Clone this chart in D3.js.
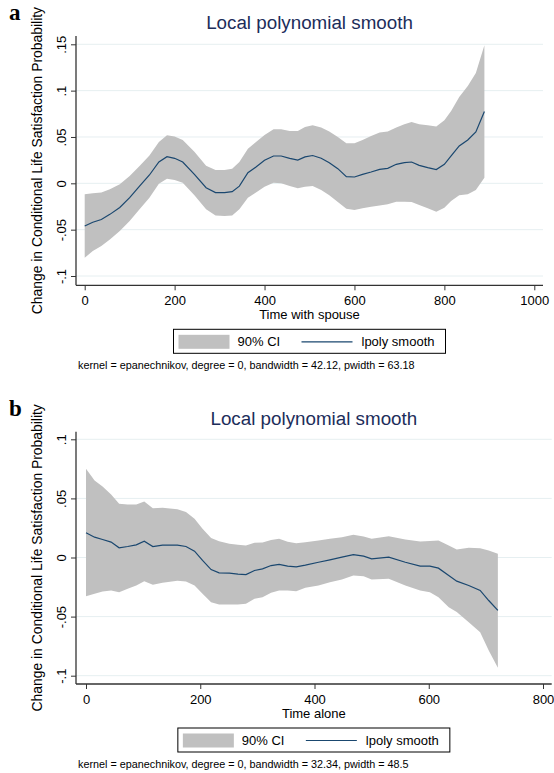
<!DOCTYPE html>
<html>
<head>
<meta charset="utf-8">
<script src="https://cdn.jsdelivr.net/npm/d3@7"></script>
<style>
  body { margin: 0; background: #fff; }
  svg { display: block; font-family: "Liberation Sans", Arial, sans-serif; }
</style>
</head>
<body>
<div id="chart"></div>
<script>
const width = 554;
const height = 773;

// panel a : time with spouse
const spouseX = [0, 18, 37, 56, 78, 100, 122, 144, 165, 183, 200, 218, 244, 270, 291, 311, 328, 344, 363, 381,
  400, 420, 437, 456, 474, 490, 507, 526, 544, 563, 582, 600, 618, 637, 656, 674, 693, 711, 727, 744,
  763, 782, 800, 815, 833, 852, 870, 889];
const spouseFit = [-.046, -.042, -.039, -.0335, -.026, -.0155, -.003, .009, .023, .0288, .027, .023, .0097, -.0047, -.010, -.010, -.009, -.003, .0115, .0176,
  .0248, .0295, .0295, .027, .025, .0285, .030, .027, .0223, .0158, .0072, .0068, .0097, .0122, .015, .0162, .0205, .0223, .023, .0194,
  .0169, .0148, .0205, .0295, .0403, .0468, .0554, .0774];
const spouseHi = [-.0119, -.0108, -.010, -.0065, -.001, .0079, .0187, .030, .0445, .0518, .0504, .0468, .034, .019, .0144, .0144, .0158, .023, .0374, .0446,
  .0522, .0583, .0583, .0565, .0565, .0608, .0626, .0601, .0558, .050, .0432, .0432, .0468, .0511, .0547, .0558, .0601, .0637, .0662, .0637,
  .0626, .0612, .068, .078, .0932, .105, .119, .149];
const spouseLo = [-.0803, -.0731, -.0677, -.0605, -.0515, -.0407, -.0281, -.0155, -.0005, .005, .0036, .0007, -.013, -.0281, -.0346, -.0353, -.0346, -.0281, -.0155, -.010,
  -.0036, .0007, 0, -.0029, -.0054, -.0036, -.0029, -.0072, -.013, -.0202, -.0274, -.0288, -.027, -.0252, -.0238, -.0227, -.0198, -.0198, -.0202, -.0234,
  -.027, -.0306, -.0263, -.0191, -.013, -.0119, -.0072, .0061];

// panel b : time alone
const aloneX = [0, 15, 29, 44, 58, 73, 88, 102, 117, 134, 160, 175, 190, 204, 219, 233, 251, 266, 280, 295,
  309, 324, 338, 353, 368, 384, 407, 427, 448, 468, 486, 500, 530, 559, 585, 602, 617, 635, 649, 670,
  690, 705, 721];
const aloneFit = [.0209, .0172, .0152, .013, .0082, .0093, .0107, .0138, .0093, .0104, .0104, .0093, .0054, -.0025, -.0102, -.013, -.0133, -.0141, -.0144, -.011,
  -.0096, -.0068, -.0059, -.0073, -.0079, -.0065, -.004, -.002, .0003, .0025, .0011, -.0011, .0003, -.004, -.0073, -.0073, -.009, -.0152, -.020, -.0237,
  -.0279, -.0364, -.0448];
const aloneHi = [.075, .0651, .060, .0533, .0454, .0448, .0448, .0474, .0417, .042, .0409, .0384, .0327, .0243, .0166, .0138, .0116, .0107, .0102, .0124,
  .0127, .0149, .0158, .0133, .0121, .013, .0144, .0158, .0172, .0192, .0178, .0158, .018, .0152, .0135, .014, .0144, .0102, .0068, .0082,
  .0079, .0059, .0031];
const aloneLo = [-.0327, -.0307, -.0288, -.0279, -.0293, -.0265, -.0237, -.020, -.0231, -.0214, -.0197, -.0203, -.0237, -.0307, -.0378, -.0398, -.0398, -.0398, -.0392, -.035,
  -.0336, -.0299, -.0279, -.0279, -.0285, -.0255, -.0237, -.0209, -.0186, -.0152, -.0158, -.0186, -.018, -.0237, -.0279, -.0293, -.0336, -.042, -.0462, -.0547,
  -.0632, -.0787, -.0933];

const spouseXTicks = [0, 200, 400, 600, 800, 1000];
const aloneXTicks = [0, 200, 400, 600, 800];
const spouseYTicks = [-.1, -.05, 0, .05, .1, .15];
const aloneYTicks = [-.1, -.05, 0, .05, .1];
const yTickLabel = {"-0.1": "-.1", "-0.05": "-.05", "0": "0", "0.05": ".05", "0.1": ".1", "0.15": ".15"};

const titleText = "Local polynomial smooth";
const yTitle = "Change in Conditional Life Satisfaction Probability";
const legendLabels = ["90% CI", "lpoly smooth"];

const navy = "#1a476f";
const bandGrey = "#c0c0c0";

const svg = d3.select("#chart")
  .append("svg")
  .attr("width", width)
  .attr("height", height);

function drawPanel(p) {
  const x = d3.scaleLinear().domain(p.xDomain).range(p.xRange);
  const y = d3.scaleLinear().domain(p.yDomain).range(p.yRange);
  const g = svg.append("g");

  // panel letter
  g.append("text")
    .text(p.letter)
    .attr("x", 9)
    .attr("y", p.top - 16)
    .attr("font-family", "'Liberation Serif', 'Times New Roman', serif")
    .attr("font-weight", "bold")
    .attr("font-size", 23);

  // title
  g.append("text")
    .text(titleText)
    .attr("x", (p.left + p.right) / 2)
    .attr("y", p.top - 7)
    .attr("text-anchor", "middle")
    .attr("fill", "#1c2d5a")
    .attr("font-size", 18.8);

  // gridlines
  g.selectAll(".grid")
    .data(p.yTicks)
    .join("line")
    .attr("x1", p.left)
    .attr("x2", p.right)
    .attr("y1", d => y(d))
    .attr("y2", d => y(d))
    .attr("stroke", "#e6eff1")
    .attr("stroke-width", 1);

  const rows = p.xs.map((v, i) => ({x: v, fit: p.fit[i], hi: p.hi[i], lo: p.lo[i]}));

  g.append("path")
    .datum(rows)
    .attr("fill", bandGrey)
    .attr("d", d3.area().x(d => x(d.x)).y0(d => y(d.lo)).y1(d => y(d.hi)));

  g.append("path")
    .datum(rows)
    .attr("fill", "none")
    .attr("stroke", navy)
    .attr("stroke-width", 1.2)
    .attr("d", d3.line().x(d => x(d.x)).y(d => y(d.fit)));

  // axes
  const xAxis = g.append("g")
    .attr("transform", "translate(0," + p.bottom + ")")
    .call(d3.axisBottom(x).tickValues(p.xTicks).tickSize(5).tickSizeOuter(0).tickFormat(d3.format("d")));
  xAxis.select(".domain").remove();
  xAxis.selectAll("line").attr("stroke", "#333");
  xAxis.selectAll("text")
    .attr("y", 19.5)
    .attr("dy", 0)
    .attr("font-size", 13)
    .attr("font-family", "'Liberation Sans', Arial, sans-serif")
    .attr("fill", "#000");

  const yAxis = g.append("g")
    .attr("transform", "translate(" + p.left + ",0)")
    .call(d3.axisLeft(y).tickValues(p.yTicks).tickSize(5).tickSizeOuter(0)
      .tickFormat(d => yTickLabel[String(d)]));
  yAxis.select(".domain").remove();
  yAxis.selectAll("line").attr("stroke", "#333");
  yAxis.selectAll("text")
    .attr("x", 0)
    .attr("dy", 0)
    .attr("transform", "translate(-10,0) rotate(-90)")
    .attr("text-anchor", "middle")
    .attr("font-size", 13)
    .attr("font-family", "'Liberation Sans', Arial, sans-serif")
    .attr("fill", "#000");

  g.append("line")
    .attr("x1", p.left).attr("x2", p.right)
    .attr("y1", p.bottom).attr("y2", p.bottom)
    .attr("stroke", "#333").attr("stroke-width", 1.3);
  g.append("line")
    .attr("x1", p.left).attr("x2", p.left)
    .attr("y1", p.top).attr("y2", p.bottom)
    .attr("stroke", "#333").attr("stroke-width", 1.3);

  // axis titles
  g.append("text")
    .text(p.xTitle)
    .attr("x", (p.left + p.right) / 2)
    .attr("y", p.bottom + 34)
    .attr("text-anchor", "middle")
    .attr("font-size", 13);

  g.append("text")
    .text(yTitle)
    .attr("transform", "translate(41.5," + (p.top + p.bottom) / 2 + ") rotate(-90)")
    .attr("text-anchor", "middle")
    .attr("font-size", 13.9);

  // legend
  const lw = 272, lh = 24;
  const lx = (p.left + p.right) / 2 - lw / 2;
  const ly = p.bottom + 44;
  g.append("rect")
    .attr("x", lx).attr("y", ly)
    .attr("width", lw).attr("height", lh)
    .attr("fill", "#fff")
    .attr("stroke", "#000");
  g.append("rect")
    .attr("x", lx + 5).attr("y", ly + 5.5)
    .attr("width", 51).attr("height", 14)
    .attr("fill", bandGrey);
  g.append("text")
    .text(legendLabels[0])
    .attr("x", lx + 64).attr("y", ly + 17)
    .attr("font-size", 13);
  g.append("line")
    .attr("x1", lx + 128).attr("x2", lx + 179)
    .attr("y1", ly + 12.5).attr("y2", ly + 12.5)
    .attr("stroke", navy).attr("stroke-width", 1.2);
  g.append("text")
    .text(legendLabels[1])
    .attr("x", lx + 188).attr("y", ly + 17)
    .attr("font-size", 13);

  // note
  g.append("text")
    .text(p.note)
    .attr("x", 78)
    .attr("y", ly + 40)
    .attr("font-size", 10.8);
}

drawPanel({
  letter: "a",
  left: 76, right: 543, top: 36, bottom: 285.3,
  xDomain: [0, 1000], xRange: [84.7, 534.3],
  yDomain: [-.1, .15], yRange: [276, 44.3],
  xTicks: spouseXTicks, yTicks: spouseYTicks,
  xs: spouseX, fit: spouseFit, hi: spouseHi, lo: spouseLo,
  xTitle: "Time with spouse",
  note: "kernel = epanechnikov, degree = 0, bandwidth = 42.12, pwidth = 63.18"
});

drawPanel({
  letter: "b",
  left: 76, right: 551.7, top: 431.7, bottom: 684,
  xDomain: [0, 800], xRange: [86, 543],
  yDomain: [-.1, .1], yRange: [675.7, 439.3],
  xTicks: aloneXTicks, yTicks: aloneYTicks,
  xs: aloneX, fit: aloneFit, hi: aloneHi, lo: aloneLo,
  xTitle: "Time alone",
  note: "kernel = epanechnikov, degree = 0, bandwidth = 32.34, pwidth = 48.5"
});
</script>
</body>
</html>
